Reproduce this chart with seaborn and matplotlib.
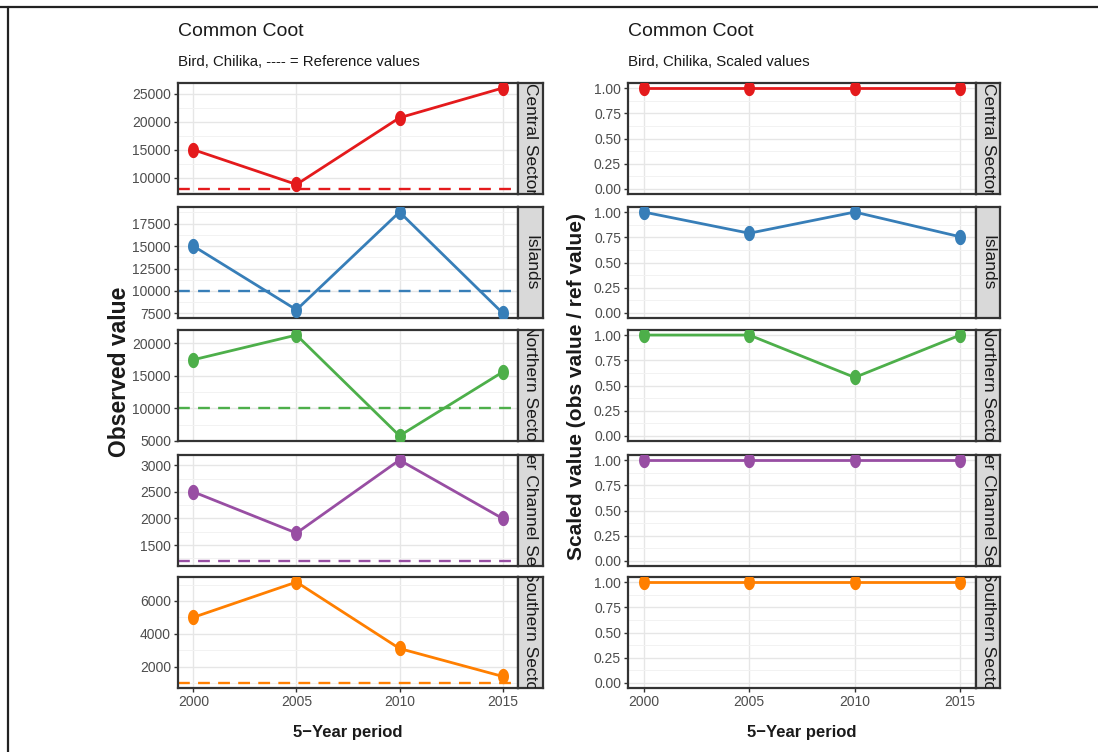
import numpy as np
import pandas as pd
import seaborn as sns
import matplotlib.pyplot as plt
from matplotlib.path import Path
from matplotlib.lines import Line2D
from matplotlib.ticker import AutoMinorLocator

# data
years = [2000, 2005, 2010, 2015]
sectors = ["Central Sector", "Islands", "Northern Sector", "Outer Channel Sector", "Southern Sector"]

central_obs = [15000, 8800, 20700, 26000]
islands_obs = [15000, 7900, 18800, 7550]
northern_obs = [17500, 21300, 5800, 15600]
channel_obs = [2500, 1725, 3100, 2000]
southern_obs = [5000, 7150, 3100, 1400]

ref_values = [8000, 10000, 10000, 1200, 1000]

central_scaled = [1.0, 1.0, 1.0, 1.0]
islands_scaled = [1.0, 0.79, 1.0, 0.755]
northern_scaled = [1.0, 1.0, 0.58, 1.0]
channel_scaled = [1.0, 1.0, 1.0, 1.0]
southern_scaled = [1.0, 1.0, 1.0, 1.0]

obs_ticks = [[10000, 15000, 20000, 25000],
             [7500, 10000, 12500, 15000, 17500],
             [5000, 10000, 15000, 20000],
             [1500, 2000, 2500, 3000],
             [2000, 4000, 6000]]
scaled_ticks = [0.0, 0.25, 0.5, 0.75, 1.0]

obs_all = [central_obs, islands_obs, northern_obs, channel_obs, southern_obs]
scaled_all = [central_scaled, islands_scaled, northern_scaled, channel_scaled, southern_scaled]

rows = []
for s, o, sc in zip(sectors, obs_all, scaled_all):
    for y, v, w in zip(years, o, sc):
        rows.append({"sector": s, "year": y, "obs": v, "scaled": w})
df = pd.DataFrame(rows)

sns.set_theme(style="white")
plt.rcParams["font.family"] = ["Liberation Sans", "DejaVu Sans"]

colors = sns.color_palette("Set1", 5)

# taller-than-wide dot like the squeezed original
t = np.linspace(0, 2 * np.pi, 40)
dot = Path(np.column_stack([0.72 * np.cos(t), np.sin(t)]))

W, H = 1098, 752
fig = plt.figure(figsize=(W / 100, H / 100), dpi=100)

def px(x0, y0, w, h):
    return [x0 / W, 1 - (y0 + h) / H, w / W, h / H]

tops = [83, 207, 330, 455, 577]
ph = 111
cols = [(178, 340, 25), (628, 348, 24)]

def style_axis(ax, bottom):
    ax.set_xlim(1999.25, 2015.75)
    ax.set_xticks(years)
    ax.yaxis.set_minor_locator(AutoMinorLocator(2))
    ax.grid(True, which="major", color="#E6E6E6", lw=1.0)
    ax.grid(True, which="minor", axis="y", color="#F2F2F2", lw=0.7)
    ax.set_axisbelow(True)
    for sp in ax.spines.values():
        sp.set_color("#333333")
        sp.set_linewidth(1.6)
    ax.tick_params(axis="both", which="major", length=3, width=1, color="#333333",
                   labelcolor="#4D4D4D", labelsize=10, pad=2, left=True, bottom=bottom)
    ax.tick_params(which="minor", length=0)
    if not bottom:
        ax.set_xticklabels([])
    ax.set_xlabel("")
    ax.set_ylabel("")

for c, (x0, pw, sw) in enumerate(cols):
    for r, sector in enumerate(sectors):
        ax = fig.add_axes(px(x0, tops[r], pw, ph))
        sub = df[df["sector"] == sector]
        col = colors[r]
        if c == 0:
            ax.axhline(ref_values[r], color=col, lw=1.7, ls=(0, (5, 3.5)), zorder=1)
            sns.lineplot(data=sub, x="year", y="obs", ax=ax, color=col, lw=2.0,
                         marker=dot, markersize=11, markeredgewidth=0, zorder=3)
            lo = min(sub["obs"].min(), ref_values[r])
            hi = max(sub["obs"].max(), ref_values[r])
            pad = (hi - lo) * 0.05
            ax.set_ylim(lo - pad, hi + pad)
            ax.set_yticks(obs_ticks[r])
            ax.set_yticklabels([str(v) for v in obs_ticks[r]])
        else:
            sns.lineplot(data=sub, x="year", y="scaled", ax=ax, color=col, lw=2.0,
                         marker=dot, markersize=11, markeredgewidth=0, zorder=3)
            ax.set_ylim(-0.05, 1.05)
            ax.set_yticks(scaled_ticks)
            ax.set_yticklabels(["%.2f" % v for v in scaled_ticks])
        style_axis(ax, r == 4)

        # facet strip on the right, label clipped to the strip like the original
        sax = fig.add_axes(px(x0 + pw, tops[r], sw, ph))
        sax.set_facecolor("#D9D9D9")
        sax.set_xticks([])
        sax.set_yticks([])
        for sp in sax.spines.values():
            sp.set_color("#333333")
            sp.set_linewidth(1.6)
        sax.text(0.5, 0.5, sector, rotation=-90, ha="center", va="center",
                 fontsize=12.5, color="#1A1A1A", transform=sax.transAxes, clip_on=True)

# titles
for x0, sub_t in [(178, "Bird, Chilika, ---- = Reference values"), (628, "Bird, Chilika, Scaled values")]:
    fig.text(x0 / W, 1 - 32 / H, "Common Coot", fontsize=14,
             color="#1A1A1A", ha="left", va="center")
    fig.text(x0 / W, 1 - 62 / H, sub_t, fontsize=10.8,
             color="#1A1A1A", ha="left", va="center")

# axis labels
fig.text(120 / W, 1 - 372 / H, "Observed value", rotation=90, fontsize=16.5,
         fontweight="bold", ha="center", va="center", color="#1A1A1A")
fig.text(576 / W, 1 - 386 / H, "Scaled value (obs value / ref value)", rotation=90,
         fontsize=15, fontweight="bold", ha="center", va="center", color="#1A1A1A")
fig.text(348 / W, 1 - 733 / H, "5\u2212Year period", fontsize=12,
         fontweight="bold", ha="center", va="center", color="#1A1A1A")
fig.text(802 / W, 1 - 733 / H, "5\u2212Year period", fontsize=12,
         fontweight="bold", ha="center", va="center", color="#1A1A1A")

# outer frame (top and left edges visible in the reference)
fig.add_artist(Line2D([0, 1], [1 - 7 / H, 1 - 7 / H], color="#222222", lw=1.6, transform=fig.transFigure))
fig.add_artist(Line2D([8 / W, 8 / W], [0, 1 - 7 / H], color="#222222", lw=1.6, transform=fig.transFigure))

fig.savefig("out.png", dpi=100)
